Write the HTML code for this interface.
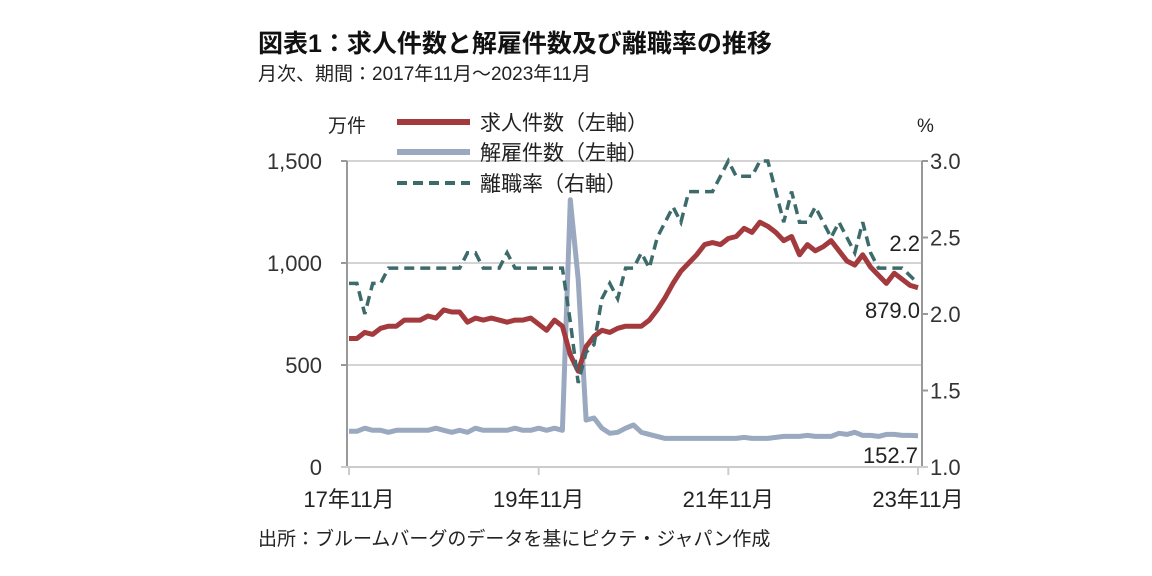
<!DOCTYPE html>
<html><head><meta charset="utf-8"><style>
body{margin:0;background:#fff;width:1152px;height:571px;overflow:hidden;font-family:"Liberation Sans","Noto Sans CJK JP",sans-serif;}
svg text{font-family:"Liberation Sans","Noto Sans CJK JP",sans-serif;}
</style></head><body>
<svg width="1152" height="571">
<text x="258" y="52" font-size="25" font-weight="bold" fill="#111">図表1：求人件数と解雇件数及び離職率の推移</text>
<text x="258" y="80" font-size="19" fill="#222">月次、期間：2017年11月～2023年11月</text>
<text x="328" y="132" font-size="19" fill="#222">万件</text>
<text x="917" y="132" font-size="19" fill="#222">%</text>
<g id="grid"></g>
<g id="axes"></g>
<g id="series"></g>
<g>
<line x1="397" y1="122" x2="470" y2="122" stroke="#a33a3e" stroke-width="6"/>
<text x="480" y="130" font-size="21" fill="#222">求人件数（左軸）</text>
<line x1="397" y1="152" x2="470" y2="152" stroke="#9aa9bf" stroke-width="6"/>
<text x="480" y="160" font-size="21" fill="#222">解雇件数（左軸）</text>
<line x1="397" y1="183" x2="470" y2="183" stroke="#3d6b6b" stroke-width="4" stroke-dasharray="10,6"/>
<text x="480" y="191" font-size="21" fill="#222">離職率（右軸）</text>
</g>
<text x="920" y="251" font-size="22" fill="#222" text-anchor="end">2.2</text>
<text x="920" y="318" font-size="22" fill="#222" text-anchor="end">879.0</text>
<text x="918" y="463" font-size="22" fill="#222" text-anchor="end">152.7</text>
<text x="258" y="545" font-size="19" fill="#222">出所：ブルームバーグのデータを基にピクテ・ジャパン作成</text>
</svg>
<script>
const leftTicks=[0,500,1000,1500];
const leftTickLabels=["0","500","1,000","1,500"];
const rightTicks=[1.0,1.5,2.0,2.5,3.0];
const rightTickLabels=["1.0","1.5","2.0","2.5","3.0"];
const xTickIdx=[0,24,48,72];
const xTickLabels=["17年11月","19年11月","21年11月","23年11月"];
const openings=[630,630,660,650,680,690,690,720,720,720,740,730,770,760,760,710,730,720,730,720,710,720,720,730,700,670,720,690,550,470,590,640,670,660,680,690,690,690,720,770,830,900,960,1000,1040,1090,1100,1090,1120,1130,1170,1150,1200,1180,1150,1110,1130,1040,1090,1060,1080,1110,1060,1010,990,1040,980,940,900,950,920,890,879];
const layoffs=[175,175,190,180,180,170,180,180,180,180,180,190,180,170,180,170,190,180,180,180,180,190,180,180,190,180,190,180,1310,920,230,240,190,165,170,190,206,170,160,150,140,140,140,140,140,140,140,140,140,140,145,140,140,140,145,150,150,150,155,150,150,150,165,160,170,155,155,150,160,160,155,155,152.7];
const separation=[2.2,2.2,2.0,2.2,2.2,2.3,2.3,2.3,2.3,2.3,2.3,2.3,2.3,2.3,2.3,2.4,2.4,2.3,2.3,2.3,2.4,2.3,2.3,2.3,2.3,2.3,2.3,2.3,1.95,1.55,1.75,1.8,2.1,2.2,2.1,2.3,2.3,2.4,2.3,2.5,2.6,2.7,2.6,2.8,2.8,2.8,2.8,2.9,3.0,2.9,2.9,2.9,3.0,3.0,2.8,2.6,2.8,2.6,2.6,2.7,2.6,2.5,2.6,2.5,2.4,2.6,2.4,2.3,2.3,2.3,2.3,2.25,2.2];
const NS="http://www.w3.org/2000/svg";
const X0=349,X1=918,Y0=467,Y1=161;
const xS=i=>X0+(X1-X0)*i/72;
const yL=v=>Y0-(Y0-Y1)*v/1500;
const yR=v=>Y0-(Y0-Y1)*(v-1)/2;
function mk(tag,attrs,parent){const e=document.createElementNS(NS,tag);for(const k in attrs)e.setAttribute(k,attrs[k]);document.getElementById(parent).appendChild(e);return e;}
leftTicks.forEach((v,i)=>{
 if(v>0){const g=mk('line',{x1:347,x2:922,y1:yL(v),y2:yL(v),stroke:'#d4d4d4','stroke-width':2},'grid');
 
 }
 const t=mk('text',{x:322,y:yL(v)+8,'font-size':22,fill:'#333','text-anchor':'end'},'axes');t.textContent=leftTickLabels[i];
 
 
 mk('line',{x1:341,x2:347,y1:yL(v),y2:yL(v),stroke:'#999','stroke-width':2},'axes');
});
rightTicks.forEach((v,i)=>{
 const t=mk('text',{x:930,y:yR(v)+8,'font-size':22,fill:'#333'},'axes');t.textContent=rightTickLabels[i];
 
 
 mk('line',{x1:922,x2:928,y1:yR(v),y2:yR(v),stroke:'#999','stroke-width':2},'axes');
});
const la=mk('line',{x1:347,x2:347,y1:161,y2:467,stroke:'#999','stroke-width':2},'axes');


const ra=mk('line',{x1:922,x2:922,y1:161,y2:467,stroke:'#999','stroke-width':2},'axes');


const xa=mk('line',{x1:341,x2:928,y1:467,y2:467,stroke:'#ccc','stroke-width':2},'axes');


xTickIdx.forEach((idx,i)=>{
 mk('line',{x1:xS(idx),x2:xS(idx),y1:467,y2:475,stroke:'#ccc','stroke-width':2},'axes');
 const t=mk('text',{x:xS(idx),y:507,'font-size':22,fill:'#222','text-anchor':'middle'},'axes');t.textContent=xTickLabels[i];
 
 
});
function path(arr,ys){return arr.map((v,i)=>(i?'L':'M')+xS(i).toFixed(1)+','+ys(v).toFixed(1)).join('');}
const p1=mk('path',{d:path(layoffs,yL),fill:'none',stroke:'#9aa9bf','stroke-width':5,'stroke-linejoin':'round'},'series');


const p2=mk('path',{d:path(openings,yL),fill:'none',stroke:'#a33a3e','stroke-width':5,'stroke-linejoin':'round'},'series');


const p3=mk('path',{d:path(separation,yR),fill:'none',stroke:'#3d6b6b','stroke-width':3.5,'stroke-dasharray':'10,6'},'series');


</script>
</body></html>
